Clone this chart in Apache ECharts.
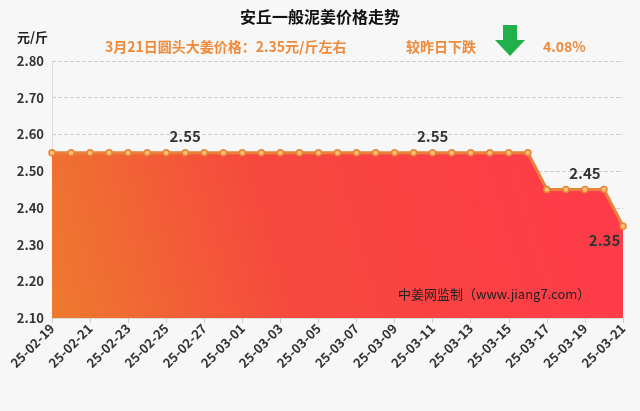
<!DOCTYPE html>
<html><head><meta charset="utf-8">
<script src="https://cdn.jsdelivr.net/npm/echarts@6/dist/echarts.min.js"></script>
<style>html,body{margin:0;padding:0;background:#f7f7f7}#c{width:640px;height:411px}</style>
</head><body><div id="c"></div>
<script>
const categories = ['25-02-19','25-02-20','25-02-21','25-02-22','25-02-23','25-02-24','25-02-25','25-02-26','25-02-27','25-02-28','25-03-01','25-03-02','25-03-03','25-03-04','25-03-05','25-03-06','25-03-07','25-03-08','25-03-09','25-03-10','25-03-11','25-03-12','25-03-13','25-03-14','25-03-15','25-03-16','25-03-17','25-03-18','25-03-19','25-03-20','25-03-21'];
const prices = [2.55,2.55,2.55,2.55,2.55,2.55,2.55,2.55,2.55,2.55,2.55,2.55,2.55,2.55,2.55,2.55,2.55,2.55,2.55,2.55,2.55,2.55,2.55,2.55,2.55,2.55,2.45,2.45,2.45,2.45,2.35];
const labelIdx = [7,20,28,30];
const F = '"Microsoft YaHei","Noto Sans CJK SC",sans-serif';
const chart = echarts.init(document.getElementById('c'));
chart.setOption({
  backgroundColor:'#f7f7f7',
  title:[
    {text:'安丘一般泥姜价格走势',left:'center',top:4,textStyle:{fontSize:16,fontWeight:'bold',color:'#111',fontFamily:F}},
    {text:'3月21日圆头大姜价格：2.35元/斤左右',left:100,top:35,textStyle:{fontSize:14,fontWeight:'bold',color:'#ee8a3a',fontFamily:F}},
    {text:'较昨日下跌',left:401,top:35,textStyle:{fontSize:14,fontWeight:'bold',color:'#ee8a3a',fontFamily:F}},
    {text:'4.08%',left:538,top:35,textStyle:{fontSize:14,fontWeight:'bold',color:'#ee8a3a',fontFamily:F}},
    {text:'元/斤',left:12,top:26,textStyle:{fontSize:13,fontWeight:'bold',color:'#222',fontFamily:F}}
  ],
  graphic:[
    {type:'polygon',z:100,shape:{points:[[503,25],[517,25],[517,40],[525,40],[510,56],[495,40],[503,40]]},style:{fill:'#22b04a'}},
    {type:'text',z:100,left:398,top:288,style:{text:'中姜网监制（www.jiang7.com）',fill:'#222',font:'13px '+F}}
  ],
  grid:{left:52,right:17,top:61,bottom:93},
  xAxis:{type:'category',data:categories,boundaryGap:false,
    axisLine:{lineStyle:{color:'#ddd'}},axisTick:{show:true,interval:1,lineStyle:{color:'#ccc'}},
    axisLabel:{interval:1,rotate:45,fontSize:13,fontWeight:'bold',color:'#333',fontFamily:F,margin:8}},
  yAxis:{type:'value',min:2.1,max:2.8,interval:0.1,
    axisLabel:{formatter:v=>v.toFixed(2),fontSize:13,fontWeight:'bold',color:'#333',fontFamily:F},
    axisLine:{show:true,lineStyle:{color:'#ddd'}},
    splitLine:{lineStyle:{type:'dashed',color:'#ccc'}}},
  series:[{type:'line',data:prices.map((v,i)=>({value:v,label:{show:labelIdx.includes(i),position:i===30?'left':'top',offset:i===30?[6,14]:[0,0]}})),
    symbol:'circle',symbolSize:6,
    itemStyle:{color:'#f8c070',borderColor:'#e8823a',borderWidth:1.5},
    lineStyle:{color:'#e8823a',width:3},
    label:{formatter:p=>p.value.toFixed(2),fontSize:15,fontWeight:'bold',color:'#333',fontFamily:F},
    areaStyle:{opacity:1,color:new echarts.graphic.LinearGradient(1,0,0,1,[{offset:0,color:'#ff3a4a'},{offset:0.6,color:'#f6483e'},{offset:1,color:'#ee7a2e'}])}
  }]
});
</script></body></html>
